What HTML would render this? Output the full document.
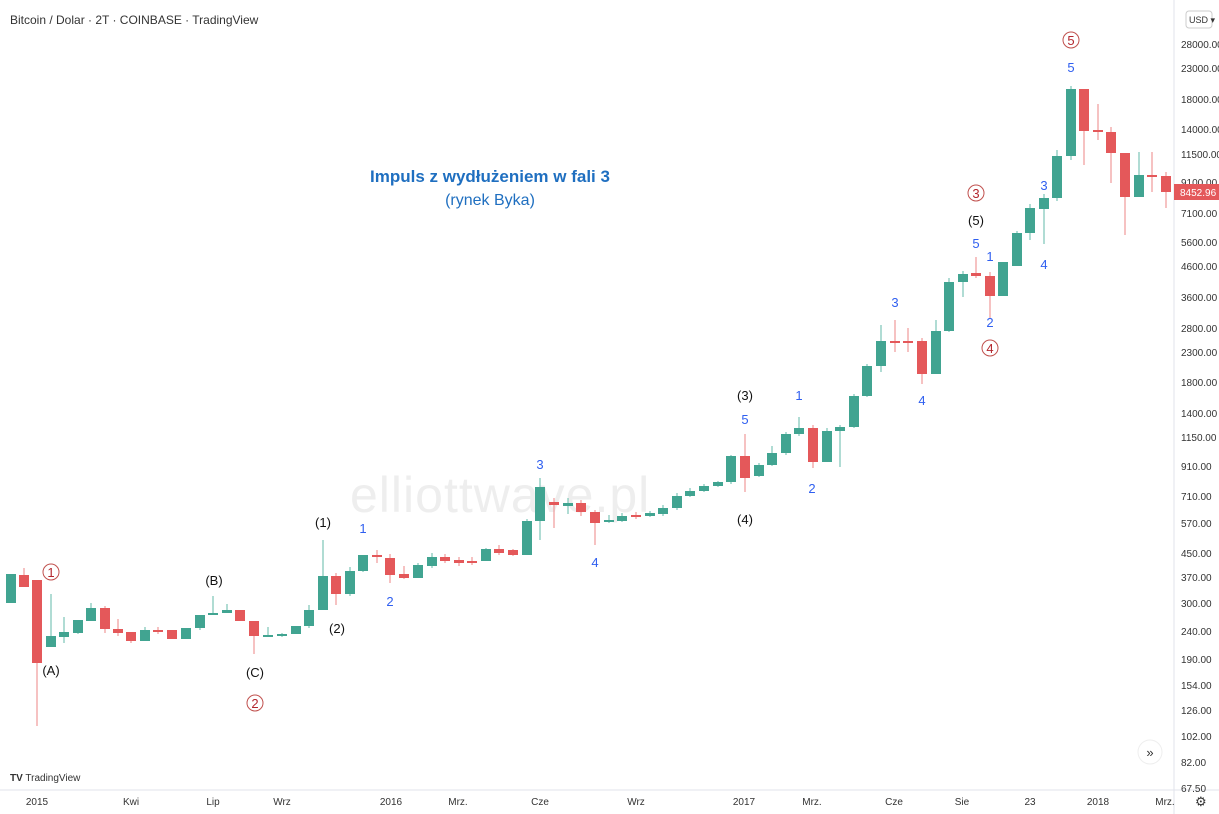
<!DOCTYPE html>
<html><head><meta charset="utf-8"><style>
body{margin:0;background:#fff;}
svg{display:block;font-family:"Liberation Sans",sans-serif;}
.ax{font-size:10px;fill:#333;}
.bx{font-size:10px;fill:#333;text-anchor:middle;}
.k{font-size:13px;fill:#111;text-anchor:middle;}
.b{font-size:13px;fill:#2f5ff0;text-anchor:middle;}
.r{font-size:13px;fill:#b3262d;text-anchor:middle;}
</style></head><body>
<svg id="s" width="1219" height="814" viewBox="0 0 1219 814" xmlns="http://www.w3.org/2000/svg">
<rect width="1219" height="814" fill="#fff"/>
<text x="350" y="512" font-size="50" fill="#eeeeee" style="letter-spacing:1px">elliottwave.pl</text>
<g id="c"></g>
<line x1="1174" y1="0" x2="1174" y2="814" stroke="#e0e3eb"/>
<line x1="0" y1="790" x2="1219" y2="790" stroke="#e0e3eb"/>
<text x="10" y="24" font-size="12" fill="#333">Bitcoin / Dolar · 2T · COINBASE · TradingView</text>
<text x="490" y="182" font-size="17" font-weight="bold" fill="#1f6fc0" text-anchor="middle">Impuls z wydłużeniem w fali 3</text>
<text x="490" y="205" font-size="16" fill="#1f6fc0" text-anchor="middle">(rynek Byka)</text>
<rect x="1186" y="11" width="26" height="17" rx="3" fill="#fff" stroke="#ccc"/>
<text x="1189" y="23" font-size="9" fill="#333">USD ▾</text>
<g class="ax">
<text x="1181" y="48">28000.00</text><text x="1181" y="72">23000.00</text><text x="1181" y="103">18000.00</text>
<text x="1181" y="133">14000.00</text><text x="1181" y="158">11500.00</text><text x="1181" y="186">9100.00</text>
<text x="1181" y="217">7100.00</text><text x="1181" y="246">5600.00</text><text x="1181" y="270">4600.00</text>
<text x="1181" y="301">3600.00</text><text x="1181" y="332">2800.00</text><text x="1181" y="356">2300.00</text>
<text x="1181" y="386">1800.00</text><text x="1181" y="417">1400.00</text><text x="1181" y="441">1150.00</text>
<text x="1181" y="470">910.00</text><text x="1181" y="500">710.00</text><text x="1181" y="527">570.00</text>
<text x="1181" y="557">450.00</text><text x="1181" y="581">370.00</text><text x="1181" y="607">300.00</text>
<text x="1181" y="635">240.00</text><text x="1181" y="663">190.00</text><text x="1181" y="689">154.00</text>
<text x="1181" y="714">126.00</text><text x="1181" y="740">102.00</text><text x="1181" y="766">82.00</text>
<text x="1181" y="792">67.50</text>
</g>
<rect x="1174" y="184" width="45" height="16" fill="#e4585a"/>
<text x="1180" y="196" font-size="10" fill="#fff">8452.96</text>
<g class="bx">
<text x="37" y="805">2015</text><text x="131" y="805">Kwi</text><text x="213" y="805">Lip</text><text x="282" y="805">Wrz</text>
<text x="391" y="805">2016</text><text x="458" y="805">Mrz.</text><text x="540" y="805">Cze</text><text x="636" y="805">Wrz</text>
<text x="744" y="805">2017</text><text x="812" y="805">Mrz.</text><text x="894" y="805">Cze</text><text x="962" y="805">Sie</text>
<text x="1030" y="805">23</text><text x="1098" y="805">2018</text><text x="1165" y="805">Mrz.</text>
</g>
<text x="1195" y="806" font-size="13" fill="#333">⚙</text>
<circle cx="1150" cy="752" r="12" fill="#fff" stroke="#eee"/>
<text x="1150" y="757" font-size="13" fill="#333" text-anchor="middle">»</text>
<text x="10" y="781" font-size="10" fill="#333"><tspan font-weight="bold">TV</tspan> TradingView</text>
<!-- wave labels -->
<g class="k">
<text x="51" y="675">(A)</text><text x="214" y="585">(B)</text><text x="255" y="677">(C)</text>
<text x="323" y="527">(1)</text><text x="337" y="633">(2)</text><text x="745" y="400">(3)</text>
<text x="745" y="524">(4)</text><text x="976" y="225">(5)</text>
</g>
<g class="b">
<text x="363" y="533">1</text><text x="390" y="606">2</text><text x="540" y="469">3</text><text x="595" y="567">4</text>
<text x="745" y="424">5</text><text x="799" y="400">1</text><text x="812" y="493">2</text><text x="895" y="307">3</text>
<text x="922" y="405">4</text><text x="976" y="248">5</text><text x="990" y="261">1</text><text x="990" y="327">2</text>
<text x="1044" y="190">3</text><text x="1044" y="269">4</text><text x="1071" y="72">5</text>
</g>
<g fill="none" stroke="#c0504d">
<circle cx="51" cy="572" r="8"/><circle cx="255" cy="703" r="8"/><circle cx="976" cy="193" r="8"/>
<circle cx="990" cy="348" r="8"/><circle cx="1071" cy="40" r="8"/>
</g>
<g class="r">
<text x="51" y="577">1</text><text x="255" y="708">2</text><text x="976" y="198">3</text><text x="990" y="353">4</text><text x="1071" y="45">5</text>
</g>
</svg>
<script>
var d=[[11,'g',574,603,574,603],[24,'r',575,587,568,587],[37,'r',580,663,580,726],[51,'g',636,647,594,647],
[64,'g',632,637,617,643],[78,'g',620,633,620,634],[91,'g',608,621,603,621],[105,'r',608,629,606,633],
[118,'r',629,633,619,636],[131,'r',632,641,632,643],[145,'g',630,641,627,641],[158,'r',630,631,627,634],
[172,'r',630,639,630,639],[186,'g',628,639,628,639],[200,'g',615,628,621,630],[213,'g',613,614,596,614],
[227,'g',610,613,604,613],[240,'r',610,621,610,621],[254,'r',621,636,621,654],[268,'g',635,636,627,637],
[282,'g',634,635,633,637],[296,'g',626,634,626,634],[309,'g',610,626,605,628],[323,'g',576,610,540,610],
[336,'r',576,594,573,605],[350,'g',571,594,567,596],[363,'g',555,571,555,572],[377,'r',555,557,550,563],
[390,'r',558,575,554,583],[404,'r',574,578,566,579],[418,'g',565,578,563,578],[432,'g',557,566,553,568],
[445,'r',557,561,554,563],[459,'r',560,563,557,566],[472,'r',561,563,557,565],[486,'g',549,561,548,561],
[499,'r',549,553,545,555],[513,'r',550,555,549,556],[527,'g',521,555,519,555],[540,'g',487,521,478,540],
[554,'r',502,505,498,528],[568,'g',503,506,498,514],[581,'r',503,512,500,516],[595,'r',512,523,510,545],
[609,'g',520,522,515,523],[622,'g',516,521,513,522],[636,'r',515,517,512,519],[650,'g',513,516,511,517],
[663,'g',508,514,505,516],[677,'g',496,508,493,510],[690,'g',491,496,488,497],[704,'g',486,491,484,492],
[718,'g',482,486,481,487],[731,'g',456,482,455,484],[745,'r',456,478,434,492],[759,'g',465,476,463,477],
[772,'g',453,465,446,466],[786,'g',434,453,432,455],[799,'g',428,434,417,436],[813,'r',428,462,425,468],
[827,'g',431,462,428,462],[840,'g',427,431,425,467],[854,'g',396,427,394,428],[867,'g',366,396,364,397],
[881,'g',341,366,325,372],[895,'r',341,342,320,352],[908,'r',341,342,328,352],[922,'r',341,374,338,384],
[936,'g',331,374,320,374],[949,'g',282,331,278,332],[963,'g',274,282,271,297],[976,'r',273,276,257,278],
[990,'r',276,296,272,318],[1003,'g',262,296,262,296],[1017,'g',233,266,231,266],[1030,'g',208,233,204,240],
[1044,'g',198,209,194,244],[1057,'g',156,198,150,201],[1071,'g',89,156,86,160],[1084,'r',89,131,89,165],
[1098,'r',130,132,104,140],[1111,'r',132,153,127,183],[1125,'r',153,197,153,235],[1139,'g',175,197,152,197],
[1152,'r',175,176,152,192],[1166,'r',176,192,172,208]];
var s='';d.forEach(function(c){var col=c[1]=='g'?'#41a491':'#e4585a';var wc=c[1]=='g'?'#7cc4b6':'#ef9a9a';
s+='<line x1="'+c[0]+'" x2="'+c[0]+'" y1="'+c[4]+'" y2="'+c[5]+'" stroke="'+wc+'" stroke-width="1.2"/>';
var h=Math.max(2,c[3]-c[2]);s+='<rect x="'+(c[0]-5)+'" y="'+c[2]+'" width="10" height="'+h+'" fill="'+col+'"/>';});
document.getElementById('c').innerHTML=s;
</script>
</body></html>
